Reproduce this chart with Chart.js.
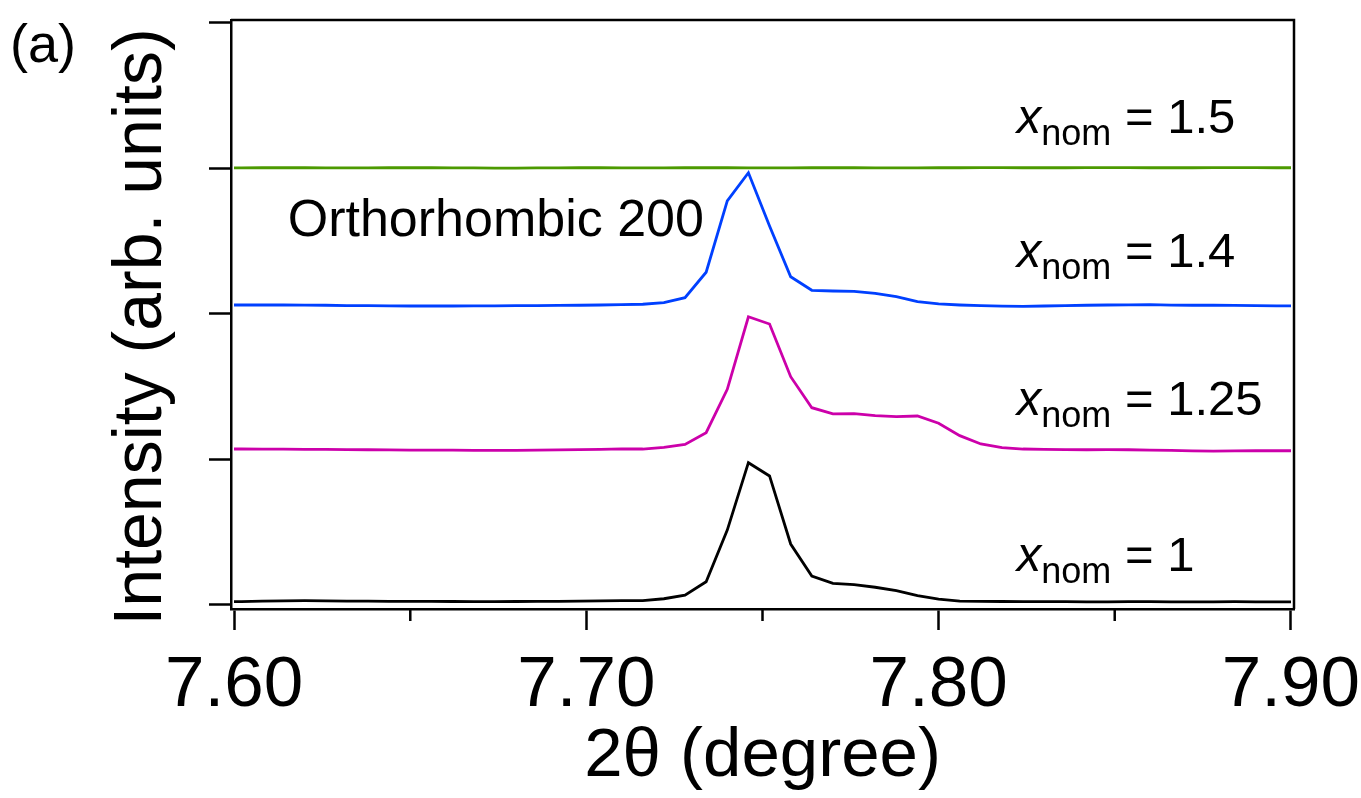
<!DOCTYPE html>
<html>
<head>
<meta charset="utf-8">
<script src="https://cdn.jsdelivr.net/npm/chart.js@4.4.1/dist/chart.umd.min.js"></script>
<style>
  html, body { margin: 0; padding: 0; background: #fff; }
  #wrap { width: 1361px; height: 798px; }
</style>
</head>
<body>
<div id="wrap"><canvas id="xrdChart" width="1361" height="798"></canvas></div>
<script>
// 2theta (degree) sampling
const twoTheta = [
  7.596, 7.602, 7.608, 7.614, 7.620, 7.626, 7.632, 7.638, 7.644, 7.650,
  7.656, 7.662, 7.668, 7.674, 7.680, 7.686, 7.692, 7.698, 7.704, 7.710,
  7.716, 7.722, 7.728, 7.734, 7.740, 7.746, 7.752, 7.758, 7.764, 7.770,
  7.776, 7.782, 7.788, 7.794, 7.800, 7.806, 7.812, 7.818, 7.824, 7.830,
  7.836, 7.842, 7.848, 7.854, 7.860, 7.866, 7.872, 7.878, 7.884, 7.890,
  7.896, 7.902
];

// intensities, already offset (arb. units)
const xnom1 = [
  0.022, 0.023, 0.026, 0.029, 0.030, 0.029, 0.027, 0.027, 0.025, 0.025,
  0.025, 0.024, 0.023, 0.023, 0.024, 0.025, 0.025, 0.027, 0.028, 0.030,
  0.030, 0.043, 0.067, 0.160, 0.515, 0.978, 0.887, 0.419, 0.199, 0.149,
  0.140, 0.122, 0.098, 0.064, 0.041, 0.027, 0.025, 0.024, 0.023, 0.023,
  0.023, 0.022, 0.022, 0.023, 0.023, 0.022, 0.022, 0.022, 0.023, 0.022,
  0.022, 0.022
];
const xnom125 = [
  1.072, 1.072, 1.071, 1.071, 1.070, 1.069, 1.068, 1.067, 1.066, 1.065,
  1.065, 1.064, 1.063, 1.063, 1.063, 1.064, 1.066, 1.068, 1.070, 1.073,
  1.072, 1.084, 1.104, 1.184, 1.482, 1.981, 1.931, 1.569, 1.356, 1.313,
  1.315, 1.301, 1.294, 1.299, 1.249, 1.164, 1.107, 1.082, 1.072, 1.069,
  1.068, 1.067, 1.068, 1.067, 1.065, 1.063, 1.059, 1.058, 1.059, 1.060,
  1.060, 1.060
];
const xnom14 = [
  2.062, 2.062, 2.062, 2.062, 2.061, 2.060, 2.058, 2.057, 2.056, 2.055,
  2.055, 2.055, 2.056, 2.056, 2.057, 2.058, 2.059, 2.060, 2.062, 2.064,
  2.067, 2.078, 2.112, 2.287, 2.777, 2.971, 2.605, 2.256, 2.163, 2.158,
  2.156, 2.142, 2.119, 2.085, 2.069, 2.062, 2.057, 2.054, 2.053, 2.055,
  2.058, 2.060, 2.062, 2.063, 2.064, 2.061, 2.060, 2.060, 2.059, 2.057,
  2.056, 2.055
];
const xnom15 = [
  3.004, 3.004, 3.005, 3.005, 3.005, 3.004, 3.004, 3.004, 3.005, 3.005,
  3.005, 3.004, 3.004, 3.003, 3.003, 3.004, 3.004, 3.005, 3.005, 3.004,
  3.004, 3.004, 3.005, 3.005, 3.005, 3.004, 3.004, 3.004, 3.005, 3.005,
  3.005, 3.004, 3.004, 3.004, 3.005, 3.005, 3.006, 3.006, 3.005, 3.005,
  3.005, 3.006, 3.006, 3.006, 3.005, 3.005, 3.005, 3.006, 3.006, 3.006,
  3.005, 3.005
];

const xTicks = [7.60, 7.70, 7.80, 7.90];
const xMinorTicks = [7.65, 7.75, 7.85];
const yTicks = [0, 1, 2, 3, 4];

const seriesLabels = ['1', '1.25', '1.4', '1.5'];
const seriesColors = ['#000000', '#cc00aa', '#0040ff', '#4c9a00'];

const FONT = '"Liberation Sans", Arial, Helvetica, sans-serif';

function pts(ys) {
  return twoTheta.map((x, i) => ({x: x, y: ys[i]}));
}

// frame, minor ticks and text labels
const decorPlugin = {
  id: 'decor',
  afterDraw(chart) {
    const ctx = chart.ctx;
    const a = chart.chartArea;
    const xs = chart.scales.x;
    const ys = chart.scales.y;
    ctx.save();
    ctx.strokeStyle = '#000';
    ctx.lineWidth = 2.5;
    ctx.beginPath();
    ctx.moveTo(a.left, a.top);
    ctx.lineTo(a.right, a.top);
    ctx.lineTo(a.right, a.bottom);
    ctx.stroke();

    xMinorTicks.forEach(v => {
      const px = xs.getPixelForValue(v);
      ctx.beginPath();
      ctx.moveTo(px, a.bottom);
      ctx.lineTo(px, a.bottom + 12);
      ctx.stroke();
    });

    ctx.fillStyle = '#000';
    ctx.textBaseline = 'alphabetic';

    // panel letter
    ctx.font = '54px ' + FONT;
    ctx.textAlign = 'left';
    ctx.fillText('(a)', 10, 62);

    // y title
    ctx.save();
    ctx.translate(161, 327);
    ctx.rotate(-Math.PI / 2);
    ctx.textAlign = 'center';
    ctx.font = '68px ' + FONT;
    ctx.fillText('Intensity (arb. units)', 0, 0);
    ctx.restore();

    // peak label
    ctx.font = '52px ' + FONT;
    ctx.fillText('Orthorhombic 200', xs.getPixelForValue(7.6152), ys.getPixelForValue(2.536));

    // series labels
    const labelY = [0.234, 1.306, 2.323, 3.244];
    seriesLabels.forEach((s, i) => {
      let px = xs.getPixelForValue(7.8222);
      const py = ys.getPixelForValue(labelY[i]);
      ctx.font = 'italic 49px ' + FONT;
      ctx.fillText('x', px, py);
      px += ctx.measureText('x').width;
      ctx.font = '36px ' + FONT;
      ctx.fillText('nom', px, py + 12);
      px += ctx.measureText('nom').width;
      ctx.font = '49px ' + FONT;
      ctx.fillText(' = ' + s, px, py);
    });
    ctx.restore();
  }
};

new Chart(document.getElementById('xrdChart').getContext('2d'), {
  type: 'line',
  data: {
    datasets: [xnom1, xnom125, xnom14, xnom15].map((d, i) => ({
      label: 'x_nom = ' + seriesLabels[i],
      data: pts(d),
      borderColor: seriesColors[i],
      borderWidth: 2.8,
      pointRadius: 0,
      tension: 0,
      fill: false,
      clip: {left: -3, right: -3, top: 0, bottom: 0}
    }))
  },
  options: {
    responsive: false,
    animation: false,
    devicePixelRatio: 1,
    layout: {padding: {left: 0, top: 20, right: 67, bottom: 0}},
    plugins: {legend: {display: false}, tooltip: {enabled: false}},
    scales: {
      x: {
        type: 'linear',
        min: 7.5991,
        max: 7.9009,
        afterBuildTicks: s => { s.ticks = xTicks.map(v => ({value: v})); },
        afterFit: s => { s.height = 189; s.paddingLeft = 0; s.paddingRight = 0; },
        ticks: {
          callback: v => Number(v).toFixed(2),
          color: '#000',
          font: {family: FONT, size: 71},
          padding: 14,
          maxRotation: 0,
          autoSkip: false
        },
        grid: {drawOnChartArea: false, tickLength: 21, tickWidth: 2.5, tickColor: '#000'},
        border: {color: '#000', width: 2.5},
        title: {
          display: true,
          text: '2θ (degree)',
          color: '#000',
          font: {family: FONT, size: 69, lineHeight: 1},
          padding: {top: 0, bottom: 7}
        }
      },
      y: {
        min: -0.0275,
        max: 4.0206,
        afterBuildTicks: s => { s.ticks = yTicks.map(v => ({value: v})); },
        afterFit: s => { s.width = 231; },
        ticks: {display: false},
        grid: {drawOnChartArea: false, tickLength: 22, tickWidth: 2.5, tickColor: '#000'},
        border: {color: '#000', width: 2.5}
      }
    }
  },
  plugins: [decorPlugin]
});
</script>
</body>
</html>
